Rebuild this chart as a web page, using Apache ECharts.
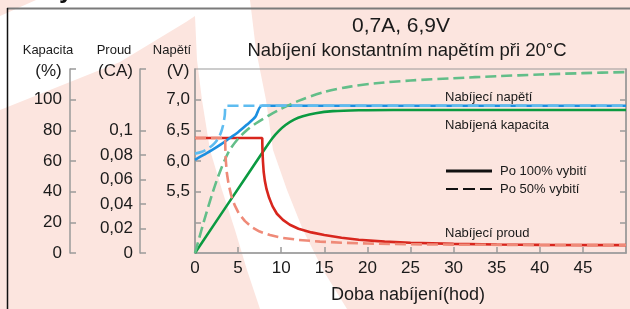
<!DOCTYPE html>
<html>
<head>
<meta charset="utf-8">
<script src="https://cdn.jsdelivr.net/npm/echarts@6/dist/echarts.min.js"></script>
<style>
html,body{margin:0;padding:0;background:#fce5df;}
#c{width:630px;height:309px;}
</style>
</head>
<body>
<div id="c"></div>
<script>
// ---- data ----
const titleText = '0,7A, 6,9V';
const subtitleText = 'Nabíjení konstantním napětím při 20°C';
const xName = 'Doba nabíjení(hod)';
const xTicks = [0, 5, 10, 15, 20, 25, 30, 35, 40, 45];

const voltTickValues = [5.5, 6.0, 6.5, 7.0];
const voltTickLabels = ['5,5', '6,0', '6,5', '7,0'];
const capTickValues = [0, 20, 40, 60, 80, 100];
const capTickLabels = ['0', '20', '40', '60', '80', '100'];
const curTickValues = [0, 0.02, 0.04, 0.06, 0.08, 0.1];
const curTickLabels = ['0', '0,02', '0,04', '0,06', '0,08', '0,1'];

// Charging voltage (V)
const voltFullT = [0, 1, 2, 3, 4, 5, 6, 7, 7.8, 50];
const voltFullV = [6.02, 6.10, 6.18, 6.27, 6.37, 6.47, 6.59, 6.72, 6.9, 6.9];
const voltHalfT = [0, 0.8, 1.6, 2.2, 2.7, 3.0, 3.25, 3.45, 3.6, 50];
const voltHalfV = [6.12, 6.15, 6.21, 6.28, 6.37, 6.46, 6.58, 6.74, 6.9, 6.9];

// Charging current (CA)
const curFullT = [0, 7.8, 7.82, 7.88, 7.97, 8.1, 8.3, 8.6, 9.0, 9.5, 10.2, 11, 12, 13.5, 15, 17, 19, 22, 25, 30, 35, 40, 50];
const curFullI = [0.0937, 0.0937, 0.085, 0.075, 0.066, 0.059, 0.052, 0.045, 0.038, 0.032, 0.027, 0.023, 0.0198, 0.0168, 0.0147, 0.0125, 0.0108, 0.0093, 0.0083, 0.0074, 0.0069, 0.0066, 0.0064];
const curHalfT = [0, 3.5, 3.52, 3.58, 3.7, 3.9, 4.2, 4.6, 5.1, 5.8, 6.6, 7.5, 8.7, 10, 12, 14.5, 17, 20, 25, 30, 40, 50];
const curHalfI = [0.0937, 0.0937, 0.085, 0.075, 0.065, 0.056, 0.047, 0.039, 0.032, 0.026, 0.021, 0.0175, 0.0146, 0.0125, 0.0107, 0.0093, 0.0084, 0.0077, 0.0071, 0.0068, 0.0065, 0.0064];

// Charged capacity (%)
const capFullT = [0, 4, 8, 9, 9.7, 10.5, 11.5, 12.5, 14, 16, 19, 23, 30, 50];
const capFullC = [0, 33.5, 67, 75, 79.5, 83.5, 87, 89.2, 91.2, 92.5, 93.1, 93.3, 93.3, 93.3];
const capHalfT = [0, 0.5, 1, 1.5, 2, 2.5, 3, 3.5, 4, 5, 6, 7, 8.5, 10, 12, 15, 18, 21, 25, 30, 35, 40, 45, 50];
const capHalfC = [0, 10, 20, 29.5, 38.5, 47, 54.5, 61.2, 67, 74.5, 80, 84.3, 89.5, 94, 99.2, 105, 108.5, 110.7, 112.5, 114, 115.3, 116.4, 117.3, 118];

// ---- helpers ----
const pair = (xs, ys) => xs.map((x, i) => [x, ys[i]]);
const FONT = '"Liberation Sans", Arial, sans-serif';
const TXT = '#1a1a1a';
const AX = '#9a9a9a';
const labelMap = (vals, labs) => (v) => {
  for (let i = 0; i < vals.length; i++) if (Math.abs(vals[i] - v) < 1e-9) return labs[i];
  return '';
};

const chart = echarts.init(document.getElementById('c'), null, {renderer: 'canvas'});

const blueSolid = '#1b8fe0', blueDash = '#5ebcf0';
const redSolid = '#d8261d', redDash = '#ef8a78';
const greenSolid = '#0b9a41', greenDash = '#63be89';

function lineSeries(name, data, yIdx, color, dashed, smooth) {
  return {
    name, type: 'line', data, yAxisIndex: yIdx, xAxisIndex: 0,
    showSymbol: false, symbol: 'none', smooth: smooth,
    lineStyle: {color, width: 2.6, type: dashed ? [11, 5] : 'solid'},
    z: dashed ? 4 : 3, animation: false
  };
}

const yBase = {
  type: 'value', splitLine: {show: false},
  axisLine: {show: true, onZero: false, lineStyle: {color: AX, width: 1.5}},
  axisTick: {show: true, inside: true, length: 6, lineStyle: {color: AX, width: 1.5}},
  axisLabel: {fontSize: 17, color: TXT, fontFamily: FONT}
};

const option = {
  backgroundColor: '#fce5df',
  animation: false,
  grid: {left: 195, right: 4, top: 69, bottom: 56, show: true, borderColor: AX, borderWidth: 1.2, backgroundColor: 'transparent'},
  xAxis: {
    type: 'value', min: 0, max: 50, interval: 5, splitLine: {show: false},
    axisLine: {show: true, onZero: false, lineStyle: {color: AX, width: 1.5}},
    axisTick: {show: true, inside: true, length: 6, customValues: xTicks.slice(1), lineStyle: {color: AX, width: 1.5}},
    axisLabel: {customValues: xTicks, fontSize: 17, color: TXT, fontFamily: FONT, margin: 7, formatter: v => String(v)}
  },
  yAxis: [
    Object.assign({}, yBase, {
      min: 4.5, max: 7.5, interval: 0.5, position: 'left',
      axisTick: Object.assign({}, yBase.axisTick, {customValues: [5, 5.5, 6, 6.5, 7]}),
      axisLabel: Object.assign({}, yBase.axisLabel, {customValues: voltTickValues, margin: 5, formatter: labelMap(voltTickValues, voltTickLabels)})
    }),
    Object.assign({}, yBase, {
      min: 0, max: 120, interval: 20, position: 'left', offset: 125,
      axisTick: Object.assign({}, yBase.axisTick, {customValues: [0, 20, 40, 60, 80, 100, 120]}),
      axisLabel: Object.assign({}, yBase.axisLabel, {customValues: capTickValues, margin: 8, formatter: labelMap(capTickValues, capTickLabels)})
    }),
    Object.assign({}, yBase, {
      min: 0, max: 0.15, interval: 0.05, position: 'left', offset: 55,
      axisTick: Object.assign({}, yBase.axisTick, {customValues: [0, 0.02, 0.04, 0.06, 0.08, 0.1, 0.15]}),
      axisLabel: Object.assign({}, yBase.axisLabel, {customValues: curTickValues, margin: 7, formatter: labelMap(curTickValues, curTickLabels)})
    }),
    Object.assign({}, yBase, {
      min: 4.5, max: 7.5, interval: 0.5, position: 'right',
      axisTick: Object.assign({}, yBase.axisTick, {customValues: [5, 5.5, 6, 6.5, 7]}),
      axisLabel: {show: false}
    })
  ],
  series: [
    lineSeries('capFull', pair(capFullT, capFullC), 1, greenSolid, false, 0.3),
    lineSeries('capHalf', pair(capHalfT, capHalfC), 1, greenDash, true, 0.3),
    lineSeries('curFull', pair(curFullT, curFullI), 2, redSolid, false, false),
    lineSeries('curHalf', pair(curHalfT, curHalfI), 2, redDash, true, false),
    lineSeries('voltFull', pair(voltFullT, voltFullV), 0, blueSolid, false, 0.3),
    lineSeries('voltHalf', pair(voltHalfT, voltHalfV), 0, blueDash, true, 0.3)
  ],
  graphic: [
    // background white shape
    {type: 'polygon', z: -100, silent: true,
     shape: {points: [[0, 16], [36, 0], [250, 0], [256, 50], [266, 100], [273, 150], [287, 190], [303, 230], [323, 270], [347, 309],
                      [260, 309], [247, 270], [235, 230], [222, 190], [210, 150], [202, 100], [197, 60], [195, 16], [186, 22], [120, 62], [0, 110]]},
     style: {fill: '#ffffff'}},
    // frame
    {type: 'line', z: -50, silent: true, shape: {x1: 7, y1: 8.5, x2: 630, y2: 8.5}, style: {stroke: '#7a7a7a', lineWidth: 2}},
    {type: 'line', z: -50, silent: true, shape: {x1: 7.5, y1: 8, x2: 7.5, y2: 309}, style: {stroke: '#111', lineWidth: 1.5}},
    {type: 'text', z: -50, silent: true, style: {text: 'y', x: 59, y: 4, fontSize: 26, fontWeight: 'bold', fill: '#111', fontFamily: FONT, verticalAlign: 'bottom'}},
    // titles
    {type: 'text', style: {text: titleText, x: 401, y: 26, fontSize: 21, fill: TXT, fontFamily: FONT, align: 'center', verticalAlign: 'middle'}},
    {type: 'text', style: {text: subtitleText, x: 407, y: 51, fontSize: 18.5, fill: TXT, fontFamily: FONT, align: 'center', verticalAlign: 'middle'}},
    // axis names
    {type: 'text', style: {text: 'Kapacita', x: 48, y: 50, fontSize: 13, fill: TXT, fontFamily: FONT, align: 'center', verticalAlign: 'middle'}},
    {type: 'text', style: {text: '(%)', x: 48.5, y: 71, fontSize: 17, fill: TXT, fontFamily: FONT, align: 'center', verticalAlign: 'middle'}},
    {type: 'text', style: {text: 'Proud', x: 114, y: 50, fontSize: 13, fill: TXT, fontFamily: FONT, align: 'center', verticalAlign: 'middle'}},
    {type: 'text', style: {text: '(CA)', x: 115.5, y: 71, fontSize: 17, fill: TXT, fontFamily: FONT, align: 'center', verticalAlign: 'middle'}},
    {type: 'text', style: {text: 'Napětí', x: 172, y: 50, fontSize: 13, fill: TXT, fontFamily: FONT, align: 'center', verticalAlign: 'middle'}},
    {type: 'text', style: {text: '(V)', x: 178, y: 71, fontSize: 17, fill: TXT, fontFamily: FONT, align: 'center', verticalAlign: 'middle'}},
    {type: 'text', style: {text: xName, x: 408, y: 295, fontSize: 18, fill: TXT, fontFamily: FONT, align: 'center', verticalAlign: 'middle'}},
    // in-plot annotations
    {type: 'text', style: {text: 'Nabíjecí napětí', x: 445, y: 97, fontSize: 13, fill: TXT, fontFamily: FONT, align: 'left', verticalAlign: 'middle'}},
    {type: 'text', style: {text: 'Nabíjená kapacita', x: 445, y: 125, fontSize: 13, fill: TXT, fontFamily: FONT, align: 'left', verticalAlign: 'middle'}},
    {type: 'text', style: {text: 'Nabíjecí proud', x: 445, y: 233, fontSize: 13, fill: TXT, fontFamily: FONT, align: 'left', verticalAlign: 'middle'}},
    // legend
    {type: 'line', shape: {x1: 446, y1: 171, x2: 492, y2: 171}, style: {stroke: '#111', lineWidth: 3}},
    {type: 'text', style: {text: 'Po 100% vybití', x: 500, y: 171, fontSize: 13, fill: TXT, fontFamily: FONT, align: 'left', verticalAlign: 'middle'}},
    {type: 'line', shape: {x1: 446, y1: 189, x2: 492, y2: 189}, style: {stroke: '#111', lineWidth: 2, lineDash: [12, 5]}},
    {type: 'text', style: {text: 'Po 50% vybití', x: 500, y: 189, fontSize: 13, fill: TXT, fontFamily: FONT, align: 'left', verticalAlign: 'middle'}}
  ]
};
chart.setOption(option);
</script>
</body>
</html>
